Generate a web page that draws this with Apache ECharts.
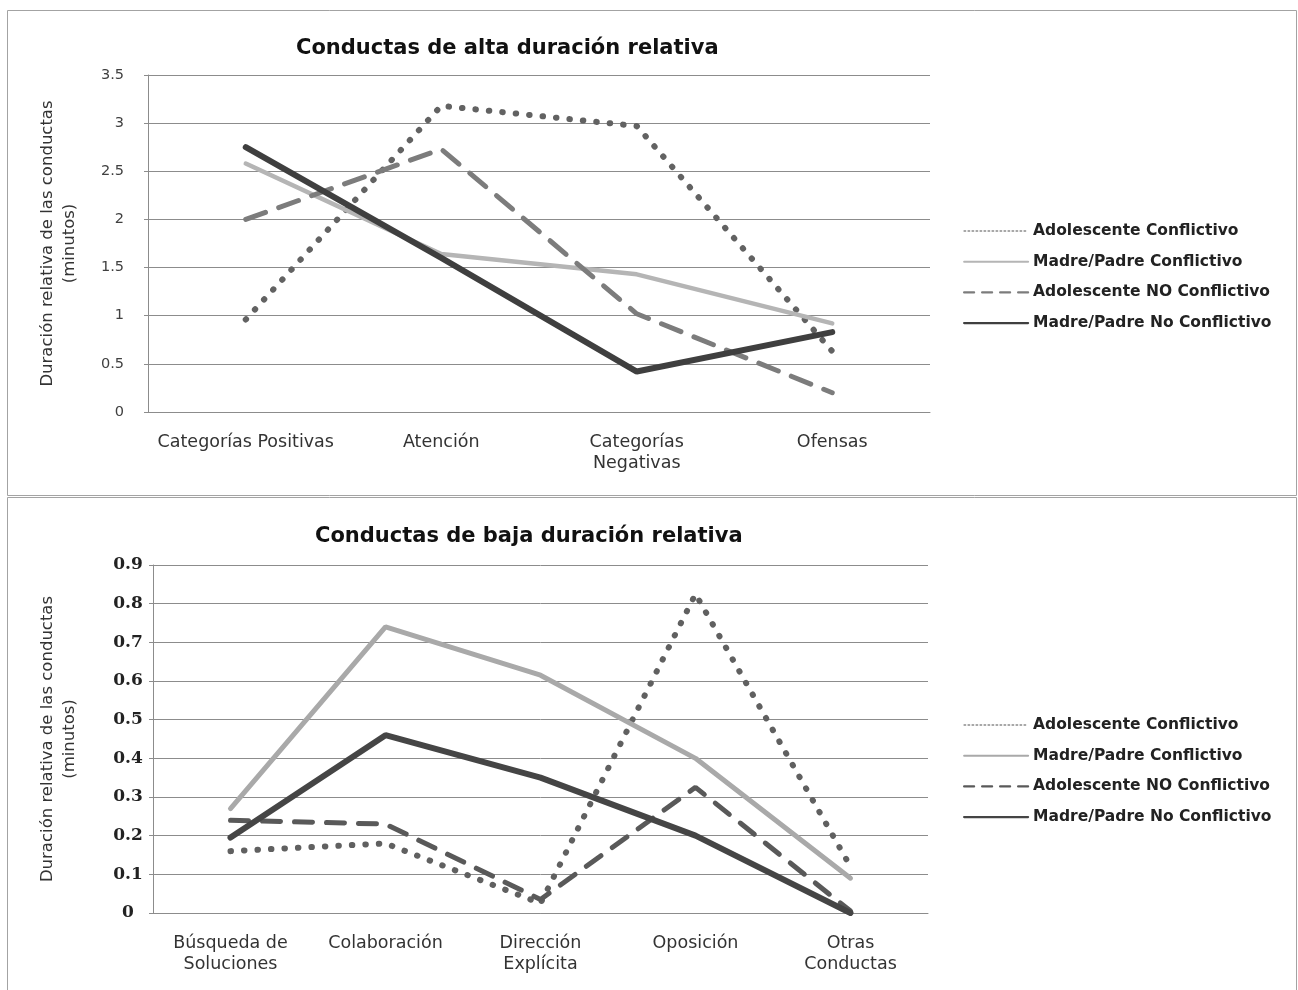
<!DOCTYPE html>
<html>
<head>
<meta charset="utf-8">
<script src="https://cdn.jsdelivr.net/npm/echarts@6/dist/echarts.min.js"></script>
<style>
  html, body { margin: 0; padding: 0; background: #ffffff; }
  #altaChart { position: absolute; left: 0; top: 0; width: 1298px; height: 496px; }
  #bajaChart { position: absolute; left: 0; top: 496px; width: 1298px; height: 494px; }
</style>
</head>
<body>
<div id="altaChart"></div>
<div id="bajaChart"></div>
<script>
// Series names shared by both panels
const seriesNames = [
  'Adolescente Conflictivo',
  'Madre/Padre Conflictivo',
  'Adolescente NO Conflictivo',
  'Madre/Padre No Conflictivo'
];

// Panel 1: high relative-duration behaviours (minutes)
const altaTitle = 'Conductas de alta duración relativa';
const altaCategories = ['Categorías Positivas', 'Atención', 'Categorías\nNegativas', 'Ofensas'];
const altaAdolescenteConflictivo = [0.96, 3.18, 2.97, 0.63];
const altaPadreConflictivo = [2.58, 1.64, 1.43, 0.92];
const altaAdolescenteNoConflictivo = [2.0, 2.73, 1.02, 0.2];
const altaPadreNoConflictivo = [2.75, 1.6, 0.42, 0.83];
const altaYTicks = { min: 0, max: 3.5, interval: 0.5 };

// Panel 2: low relative-duration behaviours (minutes)
const bajaTitle = 'Conductas de baja duración relativa';
const bajaCategories = ['Búsqueda de\nSoluciones', 'Colaboración', 'Dirección\nExplícita', 'Oposición', 'Otras\nConductas'];
const bajaAdolescenteConflictivo = [0.16, 0.18, 0.025, 0.825, 0.12];
const bajaPadreConflictivo = [0.27, 0.74, 0.615, 0.40, 0.09];
const bajaAdolescenteNoConflictivo = [0.24, 0.23, 0.035, 0.325, 0.005];
const bajaPadreNoConflictivo = [0.195, 0.46, 0.35, 0.20, 0.0];
const bajaYTicks = { min: 0, max: 0.9, interval: 0.1 };

const yAxisName = 'Duración relativa de las conductas\n(minutos)';
const gridColor = '#8c8c8c';
const sansFont = "'DejaVu Sans', 'Liberation Sans', sans-serif";

function buildOption(cfg) {
  const series = cfg.values.map((vals, i) => ({
    name: seriesNames[i],
    type: 'line',
    data: vals,
    symbol: 'none',
    showSymbol: false,
    z: 2 + i,
    itemStyle: { color: cfg.lines[i].color },
    lineStyle: cfg.lines[i]
  }));
  const legendLines = [
    { width: 1.5, type: [1.5, 2.5], color: '#8a8a8a' },
    { width: 2, type: 'solid', color: cfg.lines[1].color },
    { width: 2.2, type: [10, 8], color: cfg.lines[2].color },
    { width: 2.2, type: 'solid', color: cfg.lines[3].color }
  ];
  return {
    animation: false,
    backgroundColor: '#ffffff',
    graphic: [{
      type: 'rect',
      shape: cfg.frame,
      style: { fill: 'none', stroke: '#a3a3a3', lineWidth: 1 },
      silent: true
    }],
    title: {
      text: cfg.title,
      left: cfg.titleLeft,
      top: cfg.titleTop,
      padding: 0,
      textStyle: { fontFamily: sansFont, fontWeight: 'bold', fontSize: 21, color: '#111' }
    },
    legend: {
      orient: 'vertical',
      left: 963,
      top: cfg.legendTop,
      padding: 0,
      itemWidth: 64,
      itemHeight: 16,
      itemGap: 14.7,
      itemStyle: { opacity: 0 },
      textStyle: { fontFamily: sansFont, fontWeight: 'bold', fontSize: 15.5, color: '#222', lineHeight: 16 },
      data: seriesNames.map((n, i) => ({
        name: n,
        itemStyle: { opacity: 0 },
        lineStyle: legendLines[i]
      }))
    },
    grid: cfg.grid,
    xAxis: {
      type: 'category',
      data: cfg.categories,
      boundaryGap: true,
      axisLine: { show: true, lineStyle: { color: gridColor, width: 1 } },
      axisTick: { show: false },
      axisLabel: {
        interval: 0,
        margin: 20,
        fontFamily: sansFont,
        fontSize: 17.5,
        lineHeight: 21,
        color: '#333',
        verticalAlign: 'top'
      }
    },
    yAxis: {
      type: 'value',
      min: cfg.ticks.min,
      max: cfg.ticks.max,
      interval: cfg.ticks.interval,
      name: yAxisName,
      nameLocation: 'middle',
      nameGap: cfg.nameGap,
      nameRotate: 90,
      nameTextStyle: { fontFamily: sansFont, fontSize: 16.5, lineHeight: 22, color: '#333', align: 'center' },
      axisLine: { show: true, lineStyle: { color: gridColor, width: 1 } },
      axisTick: { show: true, length: 4, lineStyle: { color: gridColor } },
      splitLine: { show: true, lineStyle: { color: gridColor, width: 1 } },
      axisLabel: cfg.yLabel
    },
    series
  };
}

const altaOption = buildOption({
  title: altaTitle,
  titleLeft: 296,
  titleTop: 38,
  legendTop: 223,
  frame: { x: 7.5, y: 10.5, width: 1289, height: 485 },
  grid: { left: 148, top: 75, width: 782, height: 337 },
  categories: altaCategories,
  ticks: altaYTicks,
  nameGap: 67,
  yLabel: {
    margin: 24,
    fontFamily: sansFont,
    fontSize: 14.5,
    color: '#404040'
  },
  values: [altaAdolescenteConflictivo, altaPadreConflictivo, altaAdolescenteNoConflictivo, altaPadreNoConflictivo],
  lines: [
    { color: '#626262', width: 6, type: [0.5, 13], cap: 'round' },
    { color: '#b5b5b5', width: 4.5, type: 'solid', cap: 'round' },
    { color: '#7c7c7c', width: 5, type: [21, 14], cap: 'round' },
    { color: '#3f3f3f', width: 6, type: 'solid', cap: 'round' }
  ]
});

const bajaOption = buildOption({
  title: bajaTitle,
  titleLeft: 315,
  titleTop: 30,
  legendTop: 221,
  frame: { x: 7.5, y: 1.5, width: 1289, height: 520 },
  grid: { left: 153, top: 69, width: 775, height: 348 },
  categories: bajaCategories,
  ticks: bajaYTicks,
  nameGap: 72,
  yLabel: {
    margin: 25,
    align: 'center',
    fontFamily: "'DejaVu Serif', 'Liberation Serif', serif",
    fontWeight: 'bold',
    fontSize: 17,
    color: '#222',
    formatter: v => (v === 0 ? '0' : v.toFixed(1))
  },
  values: [bajaAdolescenteConflictivo, bajaPadreConflictivo, bajaAdolescenteNoConflictivo, bajaPadreNoConflictivo],
  lines: [
    { color: '#606060', width: 6, type: [0.5, 13], cap: 'round' },
    { color: '#a9a9a9', width: 5, type: 'solid', cap: 'round' },
    { color: '#595959', width: 5, type: [18, 14], cap: 'round' },
    { color: '#454545', width: 6, type: 'solid', cap: 'round' }
  ]
});

echarts.init(document.getElementById('altaChart'), null, { renderer: 'canvas' }).setOption(altaOption);
echarts.init(document.getElementById('bajaChart'), null, { renderer: 'canvas' }).setOption(bajaOption);
</script>
</body>
</html>
